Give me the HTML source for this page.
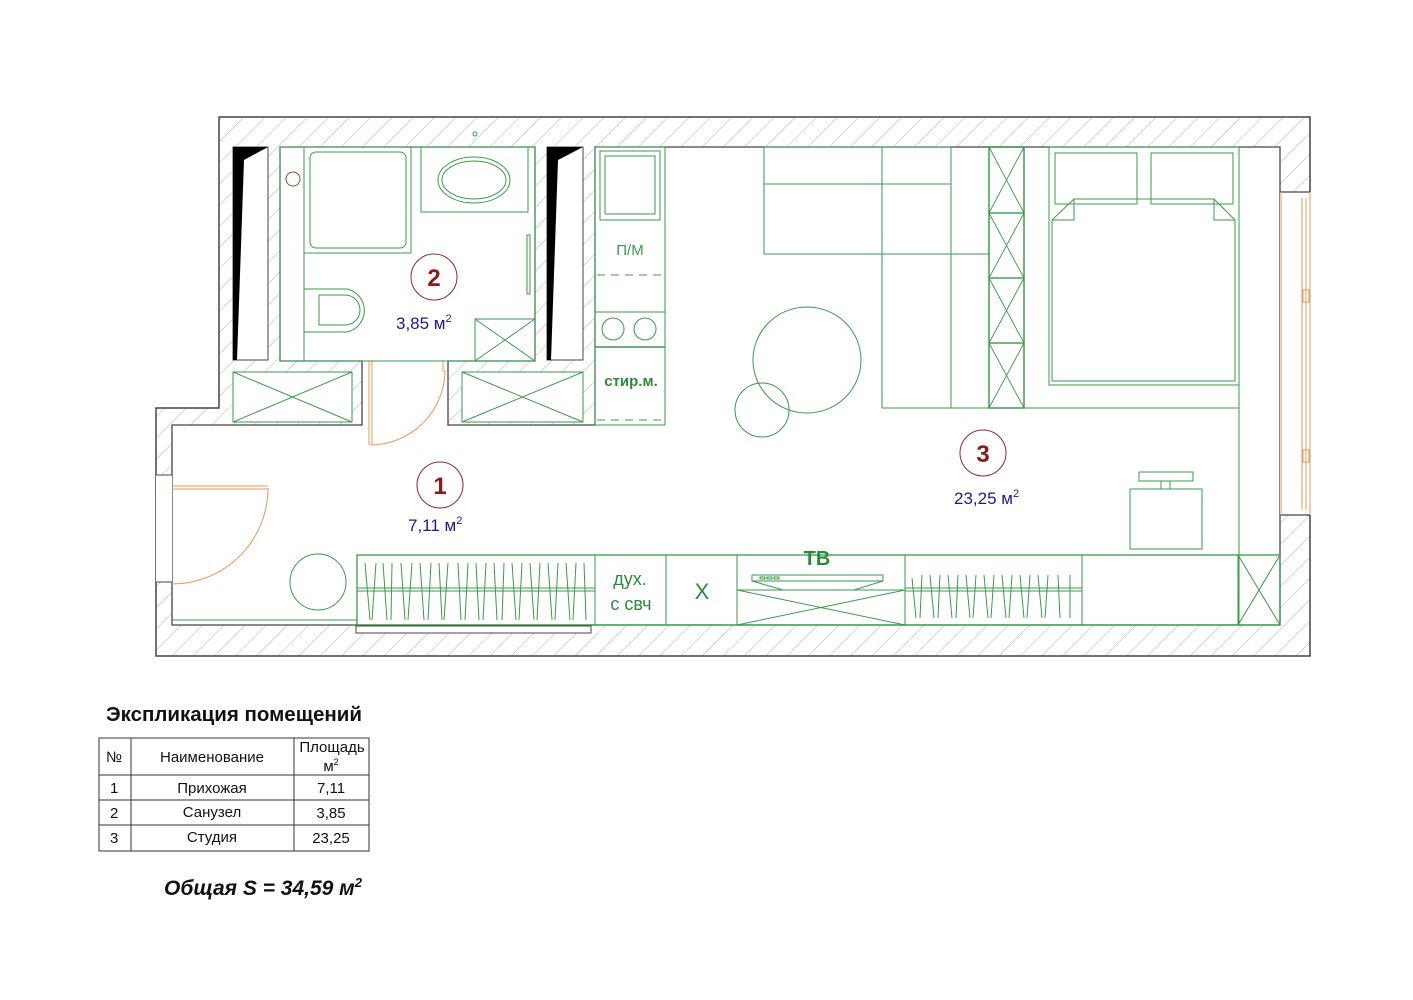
<!DOCTYPE html>
<html><head><meta charset="utf-8"><style>
body{margin:0;background:#fff}
svg{display:block}
text{font-family:"Liberation Sans",sans-serif}
</style></head><body>
<svg width="1413" height="1000" viewBox="0 0 1413 1000" xmlns="http://www.w3.org/2000/svg">
<defs>
<pattern id="h" patternUnits="userSpaceOnUse" width="15" height="15" patternTransform="rotate(45)">
<line x1="0" y1="0" x2="0" y2="15" stroke="#999" stroke-width="0.8"/>
</pattern>
</defs>
<rect width="1413" height="1000" fill="#fff"/>
<path d="M219,117 H1310 V656 H156 V408 H219 Z" fill="url(#h)" stroke="#444" stroke-width="1.5"/>
<path d="M172,625 V425 H362 V361 H280 V147 H535 V361 H448 V425 H595 V147 H1280 V625 Z" fill="#fff" stroke="#444" stroke-width="1.3"/>
<rect x="156" y="475" width="16" height="107" fill="#fff"/>
<line x1="156" y1="475" x2="172" y2="475" stroke="#444"/><line x1="156" y1="582" x2="172" y2="582" stroke="#444"/>
<rect x="1280" y="192" width="31" height="323" fill="#fff"/>
<line x1="1280" y1="192" x2="1310" y2="192" stroke="#444" stroke-width="1.3"/>
<line x1="1280" y1="515" x2="1310" y2="515" stroke="#444" stroke-width="1.3"/>
<g stroke="#e59a5a" fill="none" stroke-width="1">
<line x1="1281" y1="192" x2="1281" y2="515"/>
<line x1="1302" y1="198" x2="1302" y2="510"/>
<line x1="1306" y1="198" x2="1306" y2="510"/>
<line x1="1310" y1="192" x2="1310" y2="515"/>
<rect x="1303" y="290" width="6" height="12"/><rect x="1303" y="450" width="6" height="12"/>
</g>
<rect x="233" y="147" width="35" height="213" fill="#fff" stroke="#444"/>
<polygon points="233,147 268,147 244,160 237,360 233,360" fill="#000"/>
<rect x="547" y="147" width="36" height="213" fill="#fff" stroke="#444"/>
<polygon points="547,147 583,147 558,160 551,360 547,360" fill="#000"/>
<g stroke="#3a9a4a" fill="#fff" stroke-width="1">
<rect x="233" y="372" width="119" height="50"/>
<line x1="233" y1="372" x2="352" y2="422"/><line x1="352" y1="372" x2="233" y2="422"/>
<rect x="462" y="372" width="121" height="50"/>
<line x1="462" y1="372" x2="583" y2="422"/><line x1="583" y1="372" x2="462" y2="422"/>
</g>
<g stroke="#3a9a4a" fill="none" stroke-width="1">
<rect x="280" y="147" width="255" height="214"/>
<line x1="304" y1="147" x2="304" y2="361"/>
<rect x="304" y="147" width="107" height="106"/>
<rect x="310" y="152" width="96" height="96" rx="6"/>
<rect x="421" y="147" width="107" height="65"/>
<ellipse cx="474" cy="180" rx="36" ry="23"/>
<ellipse cx="474" cy="180" rx="32" ry="19"/>
<rect x="527" y="235" width="3" height="59"/>
<path d="M304,289 H347 A22,22 0 0 1 347,332 H304"/>
<path d="M319,295 H345 A15,15 0 0 1 345,325 H319 Z"/>
<rect x="475" y="319" width="60" height="42"/>
<line x1="475" y1="319" x2="535" y2="361"/><line x1="535" y1="319" x2="475" y2="361"/>
</g>
<circle cx="293" cy="179" r="7" fill="none" stroke="#8b4a3a"/>
<circle cx="475" cy="134" r="2" fill="none" stroke="#3a9a4a"/>
<g stroke="#e59a5a" fill="none" stroke-width="1">
<line x1="369" y1="360" x2="369" y2="445"/><line x1="372" y1="360" x2="372" y2="445"/>
<path d="M370,445 A75,75 0 0 0 445,370"/>
<line x1="443" y1="360" x2="443" y2="372"/>
<line x1="172" y1="486" x2="268" y2="486"/><line x1="172" y1="489" x2="268" y2="489"/>
<path d="M268,488 A96,96 0 0 1 172,584"/>
</g>
<g stroke="#3a9a4a" fill="none" stroke-width="1">
<rect x="595" y="147" width="70" height="278"/>
<rect x="600" y="151" width="60" height="69"/>
<rect x="605" y="156" width="50" height="58"/>
<line x1="597" y1="275" x2="663" y2="275" stroke-dasharray="8,6"/>
<line x1="595" y1="312" x2="665" y2="312"/>
<circle cx="613" cy="329" r="11"/><circle cx="645" cy="329" r="11"/>
<line x1="595" y1="347" x2="665" y2="347" stroke-width="1.6"/>
<line x1="597" y1="420" x2="663" y2="420" stroke-dasharray="8,6"/>
</g>
<text x="630" y="255" font-size="15" fill="#3a9a4a" text-anchor="middle">П/М</text>
<text x="631" y="386" font-size="15" font-weight="bold" fill="#2a8a3a" text-anchor="middle">стир.м.</text>
<g stroke="#3a9a4a" fill="none" stroke-width="1">
<rect x="764" y="147" width="187" height="107"/>
<line x1="764" y1="184" x2="951" y2="184"/>
<line x1="882" y1="147" x2="882" y2="408"/>
<line x1="951" y1="184" x2="951" y2="408"/>
<line x1="882" y1="254" x2="989" y2="254"/>
<line x1="882" y1="408" x2="1239" y2="408"/>
<line x1="1239" y1="147" x2="1239" y2="625"/>
<ellipse cx="807" cy="360" rx="54" ry="53"/>
<circle cx="762" cy="410" r="27"/>
<circle cx="318" cy="582" r="28"/>
</g>
<g stroke="#2a8a3a" fill="none" stroke-width="1.3">
<rect x="989" y="147" width="35" height="261"/>
<line x1="989" y1="213" x2="1024" y2="213"/><line x1="989" y1="278" x2="1024" y2="278"/><line x1="989" y1="343" x2="1024" y2="343"/>
</g>
<g stroke="#3a9a4a" fill="none" stroke-width="0.9">
<path d="M989,147 L1024,213 M1024,147 L989,213 M989,213 L1024,278 M1024,213 L989,278 M989,278 L1024,343 M1024,278 L989,343 M989,343 L1024,408 M1024,343 L989,408"/>
</g>
<g stroke="#3a9a4a" fill="none" stroke-width="1">
<rect x="1049" y="147" width="190" height="238"/>
<rect x="1055" y="153" width="82" height="51"/>
<rect x="1151" y="153" width="82" height="51"/>
<path d="M1052,220 L1074,199 H1214 L1235,220 V381 H1052 Z"/>
<path d="M1074,199 V220 H1052 M1214,199 V220 H1235"/>
<rect x="1130" y="489" width="72" height="60"/>
<rect x="1139" y="472" width="54" height="9"/>
<rect x="1161" y="481" width="9" height="8"/>
</g>
<g stroke="#3a9a4a" fill="none" stroke-width="1">
<line x1="172" y1="620" x2="357" y2="620"/>
<rect x="357" y="555" width="923" height="70" stroke-width="1.3"/>
<line x1="357" y1="588" x2="595" y2="588"/><line x1="357" y1="591" x2="595" y2="591"/>
<line x1="595" y1="555" x2="595" y2="625"/>
<line x1="666" y1="555" x2="666" y2="625"/>
<line x1="737" y1="555" x2="737" y2="625"/>
<line x1="905" y1="555" x2="905" y2="625"/>
<line x1="1082" y1="555" x2="1082" y2="625"/>
<line x1="737" y1="590" x2="905" y2="590"/>
<line x1="737" y1="590" x2="905" y2="625"/><line x1="905" y1="590" x2="737" y2="625"/>
<path d="M752,575 H883 V581 L854,590 H783 L752,581 Z"/>
<line x1="752" y1="581" x2="883" y2="581"/>
<rect x="760" y="577" width="5" height="2"/><rect x="767" y="577" width="5" height="2"/><rect x="774" y="577" width="5" height="2"/>
<line x1="905" y1="588" x2="1082" y2="588"/><line x1="905" y1="591" x2="1082" y2="591"/>
<rect x="1238" y="555" width="42" height="70"/>
<line x1="1238" y1="555" x2="1280" y2="625"/><line x1="1280" y1="555" x2="1238" y2="625"/>
<path d="M365,563 L370,620 M376,563 L372,620 M383,563 L387,620 M392,563 L391,620 M401,563 L405,620 M412,563 L408,620 M420,563 L424,620 M431,563 L428,620 M439,563 L442,620 M448,563 L444,620 M458,563 L461,620 M468,563 L465,620 M476,563 L479,620 M486,563 L483,620 M494,563 L497,620 M504,563 L502,620 M512,563 L516,620 M522,563 L519,620 M530,563 L534,620 M540,563 L537,620 M548,563 L552,620 M558,563 L555,620 M566,563 L570,620 M576,563 L573,620 M584,563 L586,620"/>
<path d="M912,578 L916,618 M922,575 L920,618 M930,575 L934,618 M940,575 L938,618 M948,575 L952,618 M958,575 L956,618 M966,575 L970,618 M976,575 L973,618 M984,575 L988,618 M994,575 L991,618 M1002,575 L1006,618 M1012,575 L1009,618 M1020,575 L1024,618 M1030,575 L1027,618 M1038,575 L1042,618 M1048,575 L1045,618 M1058,575 L1060,618 M1070,575 L1070,618"/>
</g>
<rect x="356" y="626" width="235" height="7" fill="#fff" stroke="#444"/>
<text x="630" y="585" font-size="18" fill="#2a8a3a" text-anchor="middle">дух.</text>
<text x="631" y="610" font-size="18" fill="#2a8a3a" text-anchor="middle">с свч</text>
<text x="702" y="599" font-size="22" fill="#2a8a3a" text-anchor="middle">X</text>
<text x="817" y="565" font-size="20" font-weight="bold" fill="#2a8a3a" text-anchor="middle">ТВ</text>
<g fill="none" stroke="#8b2a2a" stroke-width="1">
<circle cx="434" cy="277" r="23"/><circle cx="440" cy="485" r="23"/><circle cx="983" cy="453" r="23"/>
</g>
<g fill="#8b1a1a" font-size="24" font-weight="bold" text-anchor="middle">
<text x="434" y="286">2</text><text x="440" y="494">1</text><text x="983" y="462">3</text>
</g>
<g fill="#1a1a8c" font-size="17">
<text x="396" y="329">3,85 м<tspan font-size="11" dy="-7">2</tspan></text>
<text x="408" y="531">7,11 м<tspan font-size="11" dy="-7">2</tspan></text>
<text x="954" y="504">23,25 м<tspan font-size="11" dy="-7">2</tspan></text>
</g>
<text x="106" y="721" font-size="20.5" font-weight="bold" fill="#111">Экспликация помещений</text>
<g stroke="#333" stroke-width="1" fill="none">
<rect x="99" y="738" width="270" height="113"/>
<line x1="131" y1="738" x2="131" y2="851"/><line x1="294" y1="738" x2="294" y2="851"/>
<line x1="99" y1="775" x2="369" y2="775"/><line x1="99" y1="800" x2="369" y2="800"/><line x1="99" y1="825" x2="369" y2="825"/>
</g>
<g font-size="15" fill="#111">
<text x="106" y="762">№</text>
<text x="212" y="762" text-anchor="middle">Наименование</text>
<text x="332" y="752" text-anchor="middle">Площадь</text>
<text x="331" y="771" text-anchor="middle">м<tspan font-size="9" dy="-6">2</tspan></text>
<text x="110" y="793">1</text><text x="212" y="793" text-anchor="middle">Прихожая</text><text x="331" y="793" text-anchor="middle">7,11</text>
<text x="110" y="818">2</text><text x="212" y="817" text-anchor="middle">Санузел</text><text x="331" y="818" text-anchor="middle">3,85</text>
<text x="110" y="843">3</text><text x="212" y="842" text-anchor="middle">Студия</text><text x="331" y="843" text-anchor="middle">23,25</text>
</g>
<text x="164" y="895" font-size="21" font-weight="bold" font-style="italic" fill="#111">Общая S  = 34,59 м<tspan font-size="13" dy="-8">2</tspan></text>
</svg>
</body></html>
